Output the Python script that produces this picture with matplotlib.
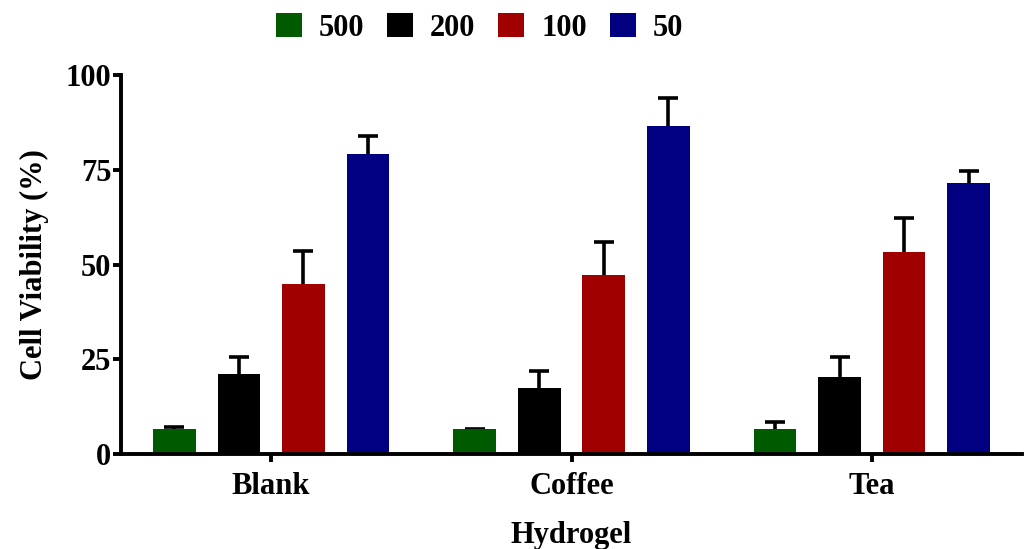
import matplotlib
matplotlib.use("Agg")
import matplotlib.pyplot as plt
import numpy as np

# data
groups = ["Blank", "Coffee", "Tea"]
doses = ["500", "200", "100", "50"]
colors = ["#005a00", "#000000", "#a00000", "#000080"]

viab_500 = [6.5, 6.5, 6.7]
viab_200 = [21.0, 17.3, 20.4]
viab_100 = [44.9, 47.1, 53.2]
viab_50 = [79.2, 86.5, 71.6]

err_500 = [0.7, 0.2, 1.7]
err_200 = [4.7, 4.6, 5.2]
err_100 = [8.7, 8.9, 9.1]
err_50 = [4.7, 7.5, 3.0]

means = [viab_500, viab_200, viab_100, viab_50]
errs = [err_500, err_200, err_100, err_50]

plt.rcParams["font.family"] = ["Liberation Serif", "DejaVu Serif"]
plt.rcParams["font.weight"] = "bold"
fs = 22

fig = plt.figure(figsize=(10.24, 5.49), dpi=100)
ax = fig.add_axes([121 / 1024, 1 - 454 / 549, (1022 - 121) / 1024, (454 - 75) / 549])

x = np.arange(len(groups))
step = 0.215
width = 0.142
for i, (m, e) in enumerate(zip(means, errs)):
    pos = x + (i - 1.5) * step
    # bars drawn over the error bars, so only the upper half shows
    ax.bar(pos, m, width, color=colors[i], label=doses[i], linewidth=0, zorder=2)
    ax.errorbar(pos, m, yerr=e, fmt="none", ecolor="black",
                elinewidth=2.6, capsize=7.5, capthick=2.6, zorder=1)

ax.set_xlim(-0.5, 2.5)
ax.set_ylim(0, 100)
ax.set_yticks([0, 25, 50, 75, 100])
ax.set_xticks(x)
ax.set_xticklabels(groups)
for s in ["top", "right"]:
    ax.spines[s].set_visible(False)
for s in ["left", "bottom"]:
    ax.spines[s].set_linewidth(2.8)
ax.tick_params(axis="both", width=2.8, length=6, labelsize=fs)
ax.tick_params(axis="y", pad=1)
ax.tick_params(axis="x", pad=7)
for lab in ax.get_xticklabels() + ax.get_yticklabels():
    lab.set_fontweight("bold")

ax.set_ylabel("Cell Viability (%)", fontsize=fs, fontweight="bold", labelpad=12)
ax.set_xlabel("Hydrogel", fontsize=fs, fontweight="bold", labelpad=14)

ax.legend(ncol=4, loc="center", bbox_to_anchor=(0.398, 1.125), frameon=False,
          handlelength=0.85, handleheight=0.85, handletextpad=0.55,
          columnspacing=0.75, prop={"weight": "bold", "size": fs})

fig.savefig("out.png", dpi=100)
